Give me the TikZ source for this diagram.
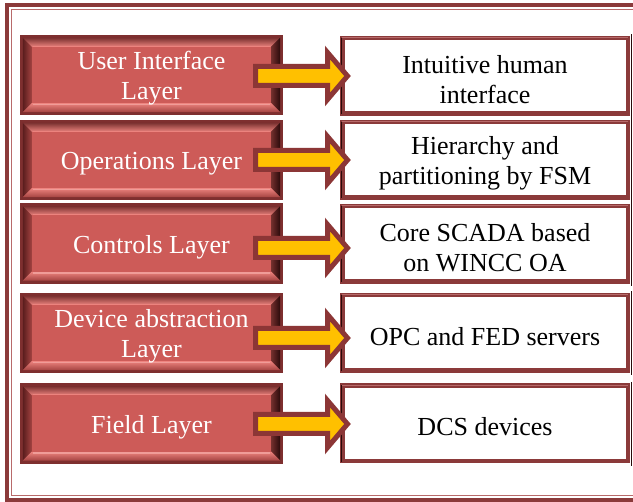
\documentclass[tikz,border=0pt]{standalone}
\usepackage{fontspec}
\newfontfamily\timesfont{Liberation Serif}
\usetikzlibrary{calc}

\definecolor{frame}{HTML}{8B3A3A}
\definecolor{framelight}{HTML}{B86A6A}
\definecolor{rim}{HTML}{7E2F2F}
\definecolor{face}{HTML}{CD5B58}
\definecolor{bevdark}{HTML}{5A1D1D}
\definecolor{bevmid}{HTML}{A44341}
\definecolor{bevlight}{HTML}{EC837E}
\definecolor{bevblack}{HTML}{2A0A0A}
\definecolor{arrowfill}{HTML}{FFC000}
\definecolor{arrowline}{HTML}{8C3636}

\pgfdeclarelayer{bg}
\pgfsetlayers{bg,main}

\tikzset{
  txt/.style={font=\timesfont\fontsize{26}{30}\selectfont, align=center, yshift=-3.5pt},
  ltxt/.style={txt, text=white},
  rtxt/.style={txt, text=black},
  % red layer box (263 x 80); its bevel is painted underneath by \bevel
  lbox/.style={rectangle, inner sep=0pt, minimum width=263pt, minimum height=80pt},
  % white description box with a dark red border
  rbox/.style={rectangle, draw=frame, line width=4.5pt, fill=white,
    inner sep=0pt, minimum width=285.5pt, minimum height=75.5pt},
  edgeshade/.style={bevblack, line width=1.3pt},
  larrow/.style={draw=arrowline, fill=arrowfill, line width=5pt, line join=miter}
}

% raised bevel under a layer box
\newcommand\bevel[1]{%
  \begin{pgfonlayer}{bg}
    \fill[rim] (#1.south west) rectangle (#1.north east);
    \shade[left color=bevdark, right color=bevmid]
      ($(#1.south west)+(3,3)$) -- ($(#1.north west)+(3,-3)$) --
      ($(#1.north west)+(12,-12)$) -- ($(#1.south west)+(12,12)$) -- cycle;
    \shade[top color=bevmid!75!black, bottom color=bevlight]
      ($(#1.north west)+(3,-3)$) -- ($(#1.north east)+(-3,-3)$) --
      ($(#1.north east)+(-12,-12)$) -- ($(#1.north west)+(12,-12)$) -- cycle;
    \shade[left color=bevmid!70!black, right color=bevblack]
      ($(#1.north east)+(-3,-3)$) -- ($(#1.south east)+(-3,3)$) --
      ($(#1.south east)+(-12,12)$) -- ($(#1.north east)+(-12,-12)$) -- cycle;
    \shade[top color=bevlight, bottom color=bevmid]
      ($(#1.south west)+(3,3)$) -- ($(#1.south east)+(-3,3)$) --
      ($(#1.south east)+(-12,12)$) -- ($(#1.south west)+(12,12)$) -- cycle;
    \fill[face] ($(#1.south west)+(12,12)$) rectangle ($(#1.north east)+(-12,-12)$);
    \draw[bevlight, line width=1.2pt] ($(#1.north west)+(13,-11.4)$) -- ($(#1.north east)+(-13,-11.4)$);
    \draw[bevlight!80!white, line width=1.4pt] ($(#1.south west)+(13,10.6)$) -- ($(#1.south east)+(-13,10.6)$);
  \end{pgfonlayer}}

% block arrow from a layer box into its description box
\newcommand\layerarrow[3]{%
  \draw[larrow] let \p1=($(#1.east)+(-27.5pt,#3)$), \p2=($(#2.west)+(7.5pt,#3)$) in
    (\x1,\y1+9.5pt) -- (\x2-20pt,\y1+9.5pt) -- (\x2-20pt,\y1+23.5pt) -- (\x2,\y1)
    -- (\x2-20pt,\y1-23.5pt) -- (\x2-20pt,\y1-9.5pt) -- (\x1,\y1-9.5pt) -- cycle;}

% shadow lines on the right and inner left side of a description box
\newcommand\rshadow[1]{%
  \draw[edgeshade] ($(#1.north east)+(1.6pt,1.6pt)$) -- ($(#1.south east)+(1.6pt,-2.2pt)$);
  \draw[edgeshade, line width=0.9pt] ($(#1.north west)+(1.6pt,-1.6pt)$) -- ($(#1.south west)+(1.6pt,1.6pt)$);
  \draw[framelight, line width=0.8pt] ($(#1.north west)+(2pt,-1.6pt)$) -- ($(#1.north east)+(-1.6pt,-1.6pt)$);}

\begin{document}
\begin{tikzpicture}[x=1pt,y=1pt]
  \useasboundingbox (0,0) rectangle (633,-502);
  \begin{pgfonlayer}{bg}
    \fill[white] (0,0) rectangle (633,-502);
    % outer double frame, running off the right side
    \draw[frame, line width=4pt] (7,-5.3) rectangle (700,-500);
    \draw[framelight, line width=1.2pt] (11.5,-9.4) rectangle (700,-495.5);
  \end{pgfonlayer}

  % layer boxes
  \node[lbox, label={[ltxt]center:User Interface\\Layer}]     (L1) at (151.5,-75)    {};
  \node[lbox, label={[ltxt]center:Operations Layer}]          (L2) at (151.5,-160)   {};
  \node[lbox, label={[ltxt]center:Controls Layer}]            (L3) at (151.5,-243.5) {};
  \node[lbox, label={[ltxt]center:Device abstraction\\Layer}] (L4) at (151.5,-333)   {};
  \node[lbox, label={[ltxt]center:Field Layer}]               (L5) at (151.5,-423.5) {};
  \bevel{L1}\bevel{L2}\bevel{L3}\bevel{L4}\bevel{L5}

  % description boxes
  \node[rbox, label={[rtxt]center:Intuitive human\\interface}]       (R1) at (485,-76)    {};
  \node[rbox, label={[rtxt]center:Hierarchy and\\partitioning by FSM}] (R2) at (485,-160) {};
  \node[rbox, label={[rtxt]center:Core SCADA based\\on WINCC OA}]    (R3) at (485,-244)   {};
  \node[rbox, label={[rtxt]center:OPC and FED servers}]              (R4) at (485,-333)   {};
  \node[rbox, label={[rtxt]center:DCS devices}]                      (R5) at (485,-423.5) {};
  \rshadow{R1}\rshadow{R2}\rshadow{R3}\rshadow{R4}\rshadow{R5}

  % arrows
  \layerarrow{L1}{R1}{-1pt}
  \layerarrow{L2}{R2}{0pt}
  \layerarrow{L3}{R3}{-4.5pt}
  \layerarrow{L4}{R4}{-5pt}
  \layerarrow{L5}{R5}{-0.5pt}
\end{tikzpicture}
\end{document}
